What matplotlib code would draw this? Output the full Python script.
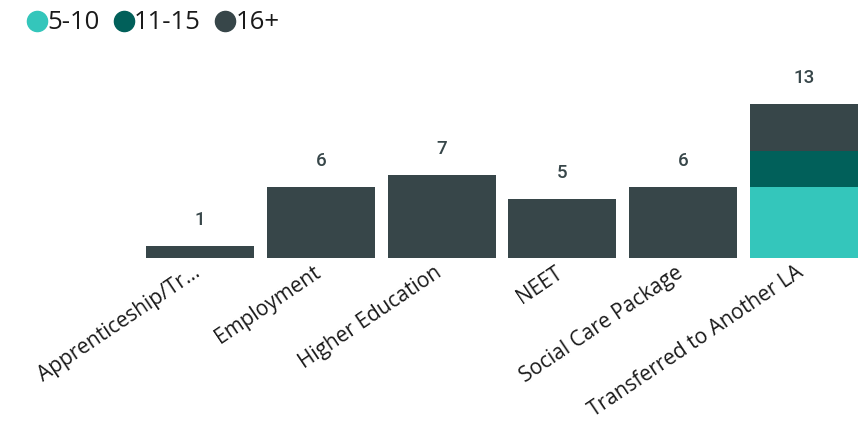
import matplotlib
matplotlib.use("Agg")
import matplotlib.pyplot as plt
import numpy as np
from matplotlib.lines import Line2D
from matplotlib.transforms import ScaledTranslation

categories = ["Apprenticeship/Tr...", "Employment", "Higher Education", "NEET",
              "Social Care Package", "Transferred to Another LA"]
series_names = ["5-10", "11-15", "16+"]
v_5_10 = [0, 0, 0, 0, 0, 6]
v_11_15 = [0, 0, 0, 0, 0, 3]
v_16p = [1, 6, 7, 5, 6, 4]
colors = ["#34C6BB", "#01605A", "#374649"]

fig = plt.figure(figsize=(8.67, 4.21), dpi=100)
ax = fig.add_axes([139.6/867, 1-258/421, 724.8/867, (258-92.1)/421])

x = np.arange(len(categories))
bottom = np.zeros(len(categories))
for vals, c in zip([v_5_10, v_11_15, v_16p], colors):
    vals = np.array(vals, dtype=float)
    ax.bar(x, vals, bottom=bottom, width=0.895, color=c, linewidth=0)
    bottom += vals

for xi, tot in zip(x, bottom):
    ax.annotate(f"{int(tot)}", (xi, tot), xytext=(0, 12), textcoords="offset points",
                ha="center", va="bottom", fontsize=13.5, color="#374649", family="Roboto",
                fontweight="medium")

ax.set_xlim(-0.5, 5.5)
ax.set_ylim(0, 14)
ax.set_xticks(x)
ax.set_xticklabels(categories, rotation=34, ha="right", rotation_mode="anchor",
                   fontsize=15, family="Open Sans", color="#1a1a1a")
ax.tick_params(axis="x", length=0, pad=3)
off = ScaledTranslation(-8/100, 0, fig.dpi_scale_trans)
for lbl in ax.get_xticklabels():
    lbl.set_transform(lbl.get_transform() + off)
ax.set_yticks([])
for s in ax.spines.values():
    s.set_visible(False)

handles = [Line2D([], [], marker="o", linestyle="", markersize=14.5, color=c) for c in colors]
fig.legend(handles, series_names, loc="upper left", bbox_to_anchor=(0.001, 1.03), ncol=3,
           frameon=False, prop={"family": "Open Sans", "size": 18.5}, handletextpad=-0.1,
           columnspacing=0.45, handlelength=1.0, labelcolor="#1a1a1a")

fig.savefig("out.png", dpi=100)
